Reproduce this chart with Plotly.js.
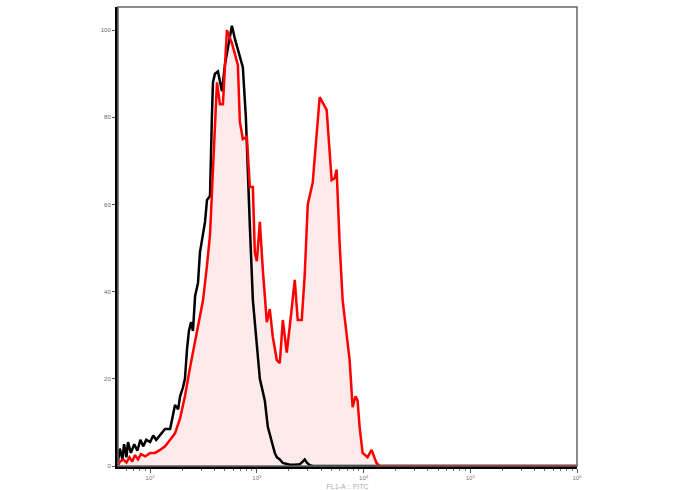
<!DOCTYPE html>
<html>
<head>
<meta charset="utf-8">
<script src="https://cdn.plot.ly/plotly-3.0.1.min.js"></script>
<style>html,body{margin:0;padding:0;background:#fff;}#chart{width:688px;height:490px;}</style>
</head>
<body>
<div id="chart"></div>
<script>
// Control (black) histogram
const controlX = [50,52,55,57,60,62,66,71,76,81,86,92,100,107,114,124,138,154,164,171,183,191,203,212,222,231,242,252,264,281,293,313,327,341,364,379,388,405,432,471,502,536,584,623,693,739,789,824,860,918,979,1067,1138,1188,1267,1380,1472,1538,1641,1751,1907,2034,2266,2523,2692,2811,2930,3129,3344,1000000];
const controlY = [1,4,1.5,5,2,5.5,3,5,3.5,6,4.5,6,5.5,7,6,7,8.5,8.5,12,14,13,16,18,20,27,31,33,31,39,42,49,53,56,61,62,80,88,90,90.5,86,92,96,101,98,94,91.5,80,66,55,38,30.5,20,17,15,9,5.3,3,2,1.5,0.7,0.5,0.3,0.3,0.4,1,1.5,0.8,0.2,0,0];
// Stained (red) histogram
const stainedX = [50,52,56,60,64,68,72,77,82,90,100,111,124,138,154,171,191,212,237,275,313,341,364,388,405,423,451,481,502,524,584,664,693,739,806,860,918,957,1000,1067,1138,1240,1322,1412,1538,1641,1751,1907,2034,2170,2266,2417,2635,2811,3000,3338,3878,4510,5023,5358,5593,5968,6368,7403,7898,8414,8793,9178,9790,10900,11880,13220,14110,1000000];
const stainedY = [0,1,1.5,0.8,2,1,2.5,1.5,2.7,2.2,3,3,3.7,4.5,6,7.5,11,16,22.7,30.5,38,46,53,68,80,88,83,83,91.5,100,97,92,79,75,75.5,64,64,49,47,56,45,33,36,29.6,24.3,23.6,33.5,26,32,38,42.7,33.5,33.5,44,60,65,84.6,81.7,65.6,66,68,51,38,24.3,13.5,16,15,9,3,2,3.7,0.7,0,0];

const xTickVals = [100,1000,10000,100000,1000000];
const xTickText = ['10<sup>2</sup>','10<sup>3</sup>','10<sup>4</sup>','10<sup>5</sup>','10<sup>6</sup>'];
const xMinorVals = [60,70,80,90,200,300,400,500,600,700,800,900,2000,3000,4000,5000,6000,7000,8000,9000,20000,30000,40000,50000,60000,70000,80000,90000,200000,300000,400000,500000,600000,700000,800000,900000];
const yTickVals = [0,20,40,60,80,100];

const traces = [
  {x: stainedX, y: stainedY, type:'scatter', mode:'none', fill:'tozeroy',
   fillcolor:'rgba(252,215,215,0.5)', hoverinfo:'skip'},
  {x: controlX, y: controlY, type:'scatter', mode:'lines',
   line:{color:'#000000', width:2.5}, hoverinfo:'skip'},
  {x: stainedX, y: stainedY, type:'scatter', mode:'lines',
   line:{color:'#ff0000', width:2.5}, hoverinfo:'skip'}
];

const layout = {
  width:688, height:490,
  margin:{l:118, r:111, t:7, b:24},
  paper_bgcolor:'#ffffff', plot_bgcolor:'#ffffff',
  showlegend:false,
  font:{family:'Liberation Sans, Arial, sans-serif'},
  xaxis:{type:'log', range:[Math.log10(50), 6], showgrid:false, zeroline:false,
    showline:true, linecolor:'#000', linewidth:3,
    tickvals:xTickVals, ticktext:xTickText, ticks:'outside', ticklen:4, tickcolor:'#555', tickwidth:1,
    tickfont:{size:6, color:'#777'},
    minor:{tickvals:xMinorVals, ticks:'outside', ticklen:2, tickcolor:'#777', tickwidth:1},
    title:{text:'FL1-A :: FITC', font:{size:7, color:'#aaa'}, standoff:5}},
  yaxis:{range:[0,105.3], showgrid:false, zeroline:false,
    showline:true, linecolor:'#000', linewidth:3,
    tickvals:yTickVals, ticks:'outside', ticklen:3, tickcolor:'#555', tickwidth:1,
    tickfont:{size:6, color:'#666'}},
  shapes:[{type:'rect', xref:'paper', yref:'paper', x0:0, x1:1, y0:0, y1:1,
    line:{color:'#666', width:1.5}}]
};

Plotly.newPlot('chart', traces, layout, {displayModeBar:false, staticPlot:true});
</script>
</body>
</html>
